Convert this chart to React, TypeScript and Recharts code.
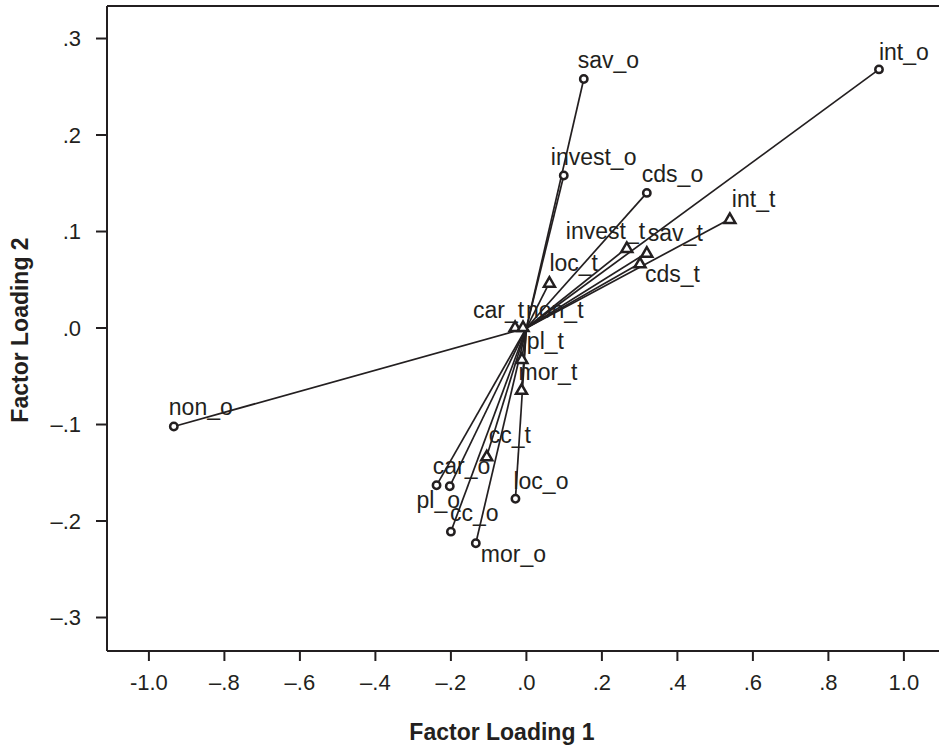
import React from 'react';
import { ScatterChart, Scatter, XAxis, YAxis, ReferenceLine } from 'recharts';

// loadings, "_o" items are circles, "_t" items are triangles
const circleNames = ['int_o', 'sav_o', 'invest_o', 'cds_o', 'car_o', 'pl_o', 'cc_o', 'mor_o', 'loc_o', 'non_o'];
const circleX = [0.934, 0.152, 0.099, 0.319, -0.203, -0.238, -0.2, -0.134, -0.029, -0.934];
const circleY = [0.268, 0.258, 0.158, 0.14, -0.164, -0.163, -0.211, -0.223, -0.177, -0.102];

const triangleNames = ['int_t', 'invest_t', 'sav_t', 'cds_t', 'loc_t', 'car_t', 'non_t', 'pl_t', 'mor_t', 'cc_t'];
const triangleX = [0.539, 0.266, 0.319, 0.301, 0.061, -0.03, -0.009, -0.012, -0.013, -0.105];
const triangleY = [0.113, 0.083, 0.078, 0.067, 0.047, 0.001, 0.001, -0.032, -0.064, -0.133];

const xTicks = [-1, -0.8, -0.6, -0.4, -0.2, 0, 0.2, 0.4, 0.6, 0.8, 1];
const xTickLabels = ['-1.0', '\u2013.8', '\u2013.6', '\u2013.4', '\u2013.2', '.0', '.2', '.4', '.6', '.8', '1.0'];
const yTicks = [-0.3, -0.2, -0.1, 0, 0.1, 0.2, 0.3];
const yTickLabels = ['\u2013.3', '\u2013.2', '\u2013.1', '.0', '.1', '.2', '.3'];

// label placement relative to the marker (default: just above, left-aligned)
const labelOffset: Record<string, [number, number]> = {
  int_o: [0, -9],
  sav_o: [-6, -11],
  invest_o: [-13, -11],
  cds_o: [-5, -11],
  car_o: [-17, -12],
  pl_o: [-20, 23],
  cc_o: [-1, -11],
  mor_o: [5, 19],
  loc_o: [-2, -10],
  non_o: [-5, -11],
  int_t: [2, -12],
  invest_t: [-61, -9],
  sav_t: [1, -12],
  cds_t: [5, 19],
  loc_t: [0, -12],
  car_t: [-42, -9],
  non_t: [3, -9],
  pl_t: [5, -10],
  mor_t: [-3, -10],
  cc_t: [2, -13],
};

const INK = '#231f20';
const FONT = '"Liberation Sans", Arial, Helvetica, sans-serif';
const X_DOMAIN: [number, number] = [-1.111, 1.093];
const Y_DOMAIN: [number, number] = [-0.3347, 0.3337];

const circles = circleNames.map((name, i) => ({ name, x: circleX[i], y: circleY[i] }));
const triangles = triangleNames.map((name, i) => ({ name, x: triangleX[i], y: triangleY[i] }));
const allPoints = [...circles, ...triangles];

const Label = ({ cx, cy, name }: { cx: number; cy: number; name: string }) => {
  const [dx, dy] = labelOffset[name] || [0, -10];
  return (
    <text x={cx + dx} y={cy + dy} fontSize={23} fontFamily={FONT} fill={INK}>
      {name}
    </text>
  );
};

const CircleShape = (props: any) => {
  const { cx, cy, payload } = props;
  return (
    <g>
      <circle cx={cx} cy={cy} r={3.7} fill="#fff" stroke={INK} strokeWidth={2.5} />
      <Label cx={cx} cy={cy} name={payload.name} />
    </g>
  );
};

const TriangleShape = (props: any) => {
  const { cx, cy, payload } = props;
  const pts = `${cx},${cy - 5.5} ${cx - 5.5},${cy + 4} ${cx + 5.5},${cy + 4}`;
  return (
    <g>
      <polygon points={pts} fill="#fff" stroke={INK} strokeWidth={2.5} strokeLinejoin="miter" />
      <Label cx={cx} cy={cy} name={payload.name} />
    </g>
  );
};

const NoShape = () => <g />;

export default function App() {
  return (
    <div style={{ position: 'absolute', left: 0, top: 0, width: 939, height: 748, background: '#fff' }}>
      <ScatterChart width={939} height={748} margin={{ top: 6, right: 0, left: 0, bottom: 0 }}>
        <XAxis
          type="number"
          dataKey="x"
          domain={X_DOMAIN}
          allowDataOverflow
          ticks={xTicks}
          interval={0}
          tickFormatter={(v: number) => xTickLabels[xTicks.findIndex((t) => Math.abs(t - v) < 1e-6)]}
          height={97}
          axisLine={{ stroke: INK, strokeWidth: 2 }}
          tickLine={{ stroke: INK, strokeWidth: 2 }}
          tickSize={10}
          tickMargin={13}
          tick={{ fill: INK, fontSize: 22, fontFamily: FONT }}
          label={{
            value: 'Factor Loading 1',
            content: () => (
              <text x={502} y={740} textAnchor="middle" fontSize={23} fontWeight="bold" fontFamily={FONT} fill={INK}>
                Factor Loading 1
              </text>
            ),
          }}
        />
        <YAxis
          type="number"
          dataKey="y"
          domain={Y_DOMAIN}
          allowDataOverflow
          ticks={yTicks}
          interval={0}
          tickFormatter={(v: number) => yTickLabels[yTicks.findIndex((t) => Math.abs(t - v) < 1e-6)]}
          width={107}
          axisLine={{ stroke: INK, strokeWidth: 2 }}
          tickLine={{ stroke: INK, strokeWidth: 2 }}
          tickSize={11}
          tickMargin={15}
          tick={{ fill: INK, fontSize: 22, fontFamily: FONT }}
          label={{
            value: 'Factor Loading 2',
            content: () => (
              <text
                x={0}
                y={0}
                transform="translate(28,330) rotate(-90)"
                textAnchor="middle"
                fontSize={23}
                fontWeight="bold"
                fontFamily={FONT}
                fill={INK}
              >
                Factor Loading 2
              </text>
            ),
          }}
        />
        <ReferenceLine y={Y_DOMAIN[1]} stroke={INK} strokeWidth={2} ifOverflow="visible" />
        {allPoints.map((p) => (
          <Scatter
            key={'ray-' + p.name}
            data={[{ x: 0, y: 0 }, { x: p.x, y: p.y }]}
            line={{ stroke: INK, strokeWidth: 1.7 }}
            lineType="joint"
            shape={NoShape}
            isAnimationActive={false}
          />
        ))}
        <Scatter data={circles} shape={CircleShape} isAnimationActive={false} />
        <Scatter data={triangles} shape={TriangleShape} isAnimationActive={false} />
      </ScatterChart>
    </div>
  );
}
